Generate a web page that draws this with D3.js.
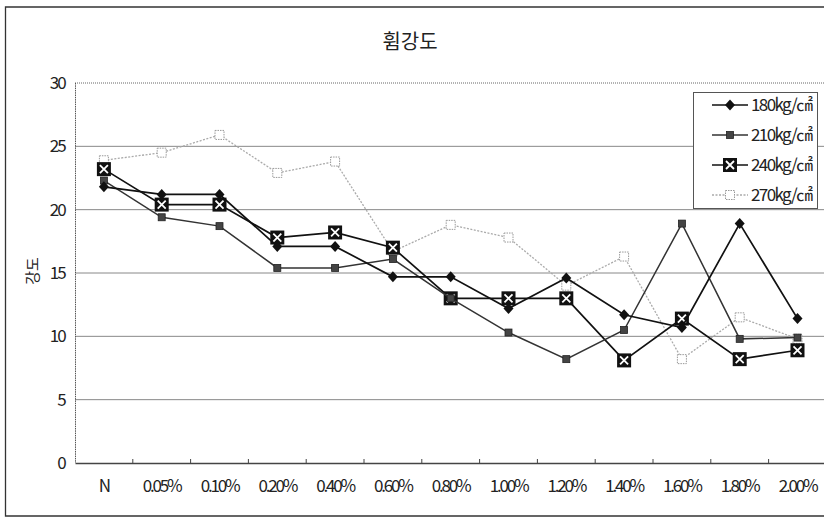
<!DOCTYPE html>
<html>
<head>
<meta charset="utf-8">
<script src="https://cdn.jsdelivr.net/npm/d3@7"></script>
<style>
  body { margin: 0; background: #fff; }
  svg text { font-family: "Noto Sans CJK KR", "Noto Sans", sans-serif; fill: #222; }
</style>
</head>
<body>
<svg id="chart" width="824" height="518"></svg>
<script>
// data
const categories = ["N", "0.05%", "0.10%", "0.20%", "0.40%", "0.60%", "0.80%", "1.00%", "1.20%", "1.40%", "1.60%", "1.80%", "2.00%"];
const s180 = [21.8, 21.2, 21.2, 17.1, 17.1, 14.7, 14.7, 12.2, 14.6, 11.7, 10.7, 18.9, 11.4];
const s210 = [22.3, 19.4, 18.7, 15.4, 15.4, 16.1, 13.0, 10.3, 8.2, 10.5, 18.9, 9.8, 9.9];
const s240 = [23.2, 20.4, 20.4, 17.8, 18.2, 17.0, 13.0, 13.0, 13.0, 8.1, 11.4, 8.2, 8.9];
const s270 = [23.9, 24.5, 25.9, 22.9, 23.8, 16.7, 18.8, 17.8, 14.0, 16.3, 8.2, 11.5, 9.8];
const seriesNames = ["180kg/㎠", "210kg/㎠", "240kg/㎠", "270kg/㎠"];
const yTicks = [0, 5, 10, 15, 20, 25, 30];

const series = [
  { name: seriesNames[0], values: s180, stroke: "#111", width: 1.7, dash: null, marker: "diamond" },
  { name: seriesNames[1], values: s210, stroke: "#333", width: 1.5, dash: null, marker: "small" },
  { name: seriesNames[2], values: s240, stroke: "#111", width: 1.7, dash: null, marker: "xbox" },
  { name: seriesNames[3], values: s270, stroke: "#aaa", width: 1.3, dash: "2,1.5", marker: "hollow" }
];

const svg = d3.select("#chart");
const margin = { top: 83, left: 75, bottom: 55 };
const plotBottom = 463;

// outer frame (chart is cut at the right)
svg.append("path")
   .attr("d", "M 900 7 L 5.5 7 L 5.5 516 L 900 516")
   .attr("fill", "none")
   .attr("stroke", "#333")
   .attr("stroke-width", 1.3);

const x = d3.scaleBand().domain(categories).range([75, 75 + 13 * 57.8]);
const y = d3.scaleLinear().domain([0, 30]).range([plotBottom, margin.top]);

// title
svg.append("text")
   .attr("x", 410).attr("y", 49)
   .attr("text-anchor", "middle")
   .attr("font-size", 20)
   .text("휨강도");

// grid
svg.append("g")
   .selectAll("line")
   .data(yTicks.filter(d => d > 0 && d < 30))
   .join("line")
   .attr("x1", 75).attr("x2", 824)
   .attr("y1", d => y(d)).attr("y2", d => y(d))
   .attr("stroke", "#888").attr("stroke-width", 1);

svg.append("line")
   .attr("x1", 75).attr("x2", 824)
   .attr("y1", y(30)).attr("y2", y(30))
   .attr("stroke", "#666").attr("stroke-dasharray", "1,1");
svg.append("line")
   .attr("x1", 75.5).attr("x2", 75.5)
   .attr("y1", y(30)).attr("y2", y(0))
   .attr("stroke", "#555").attr("stroke-dasharray", "1.5,0.8");

// y axis labels
const yAxis = d3.axisLeft(y).tickValues(yTicks).tickSize(0).tickPadding(10);
svg.append("g")
   .attr("transform", "translate(75,0)")
   .call(yAxis)
   .call(g => g.select(".domain").remove())
   .call(g => g.selectAll("text")
     .attr("font-size", 17)
     .attr("letter-spacing", -1.8)
     .attr("fill", "#222")
     .attr("font-family", "\"Noto Sans CJK KR\", sans-serif"));

// x axis
const xAxis = d3.axisBottom(x).tickSize(0).tickPadding(17);
svg.append("g")
   .attr("transform", `translate(0,${plotBottom})`)
   .call(xAxis)
   .call(g => g.select(".domain").attr("stroke", "#444").attr("stroke-width", 1.3))
   .call(g => g.selectAll("text")
     .attr("font-size", 17)
     .attr("letter-spacing", -2.2)
     .attr("fill", "#222")
     .attr("font-family", "\"Noto Sans CJK KR\", sans-serif"));

// band tick marks
svg.append("g")
   .selectAll("line")
   .data(categories.slice(1))
   .join("line")
   .attr("x1", d => x(d)).attr("x2", d => x(d))
   .attr("y1", plotBottom).attr("y2", plotBottom - 4)
   .attr("stroke", "#444");

// y title
svg.append("text")
   .attr("transform", "translate(38,271) rotate(-90)")
   .attr("text-anchor", "middle")
   .attr("font-size", 15)
   .text("강도");

const cx = d => x(d) + x.bandwidth() / 2;

function drawMarker(g, type, px, py) {
  if (type === "diamond") {
    g.append("path")
     .attr("d", `M ${px} ${py - 5.5} L ${px + 5} ${py} L ${px} ${py + 5.5} L ${px - 5} ${py} Z`)
     .attr("fill", "#111");
  } else if (type === "small") {
    g.append("rect")
     .attr("x", px - 3.5).attr("y", py - 3.5)
     .attr("width", 7).attr("height", 7)
     .attr("fill", "#444").attr("stroke", "#222").attr("stroke-width", 0.8);
  } else if (type === "xbox") {
    g.append("rect")
     .attr("x", px - 7).attr("y", py - 7)
     .attr("width", 14).attr("height", 14)
     .attr("fill", "#111");
    g.append("path")
     .attr("d", `M ${px - 4} ${py - 4} L ${px + 4} ${py + 4} M ${px + 4} ${py - 4} L ${px - 4} ${py + 4}`)
     .attr("stroke", "#fff").attr("stroke-width", 1.8);
  } else {
    g.append("rect")
     .attr("x", px - 4.5).attr("y", py - 4.5)
     .attr("width", 9).attr("height", 9)
     .attr("fill", "#fff").attr("stroke", "#999")
     .attr("stroke-width", 1).attr("stroke-dasharray", "1.5,1");
  }
}

// draw series, last first so 180 is on top
const line = d3.line().x((d, i) => cx(categories[i])).y(d => y(d));
series.slice().reverse().forEach(s => {
  const g = svg.append("g");
  g.append("path")
   .datum(s.values)
   .attr("d", line)
   .attr("fill", "none")
   .attr("stroke", s.stroke)
   .attr("stroke-width", s.width)
   .attr("stroke-dasharray", s.dash);
  s.values.forEach((v, i) => drawMarker(g, s.marker, cx(categories[i]), y(v)));
});

// legend
const lg = svg.append("g");
lg.append("rect")
  .attr("x", 693.5).attr("y", 92.5)
  .attr("width", 124).attr("height", 116)
  .attr("fill", "#fff").attr("stroke", "#555");
series.forEach((s, i) => {
  const ly = 105 + i * 30;
  lg.append("line")
    .attr("x1", 712).attr("x2", 748)
    .attr("y1", ly).attr("y2", ly)
    .attr("stroke", s.stroke).attr("stroke-width", s.width)
    .attr("stroke-dasharray", s.dash);
  drawMarker(lg, s.marker, 730, ly);
  lg.append("text")
    .attr("x", 751).attr("y", ly + 6)
    .attr("font-size", 17)
    .attr("letter-spacing", -1.6)
    .text(s.name);
});
</script>
</body>
</html>
